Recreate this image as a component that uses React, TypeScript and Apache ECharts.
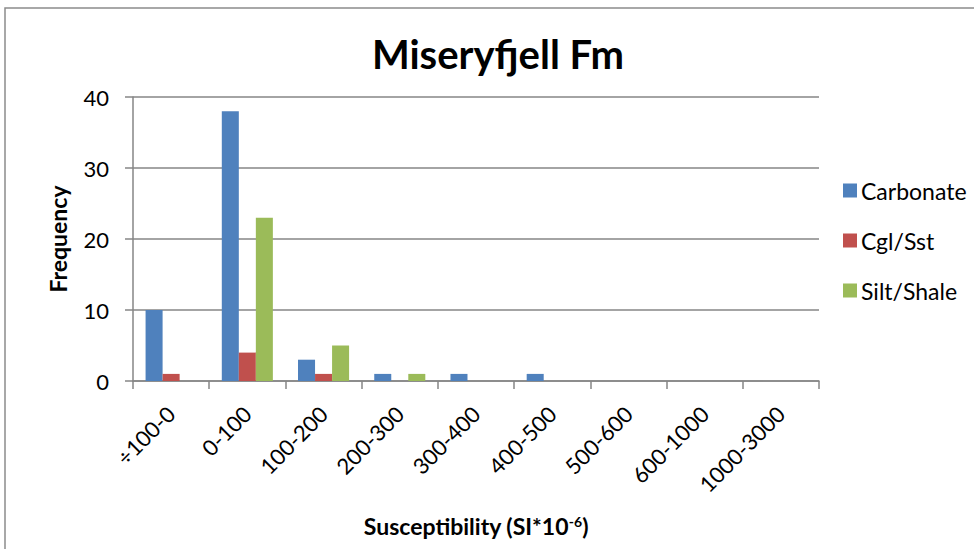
import React, { useEffect, useRef } from "react";
import * as echarts from "echarts";

const categories = ["÷100-0", "0-100", "100-200", "200-300", "300-400", "400-500", "500-600", "600-1000", "1000-3000"];
const carbonate = [10, 38, 3, 1, 1, 1, 0, 0, 0];
const cglSst = [1, 4, 1, 0, 0, 0, 0, 0, 0];
const siltShale = [0, 23, 5, 1, 0, 0, 0, 0, 0];
const seriesNames = ["Carbonate", "Cgl/Sst", "Silt/Shale"];
const colors = ["#4F81BD", "#C0504D", "#9BBB59"];

const FONT = "Lato, 'Open Sans', sans-serif";

export default function App() {
  const ref = useRef<HTMLDivElement>(null);
  useEffect(() => {
    if (!ref.current) return;
    const chart = echarts.init(ref.current, undefined, { renderer: "svg" });
    const toBar = (v: number[]) => v.map((x) => (x === 0 ? null : x));
    chart.setOption({
      animation: false,
      backgroundColor: "#ffffff",
      textStyle: { fontFamily: FONT, color: "#000" },
      title: {
        text: "Miseryfjell Fm",
        left: 493,
        textAlign: "center",
        top: 29,
        textStyle: { fontFamily: FONT, fontWeight: "bold", fontSize: 40, color: "#000" },
      },
      graphic: [
        {
          type: "rect",
          shape: { x: 5, y: 8, width: 1100, height: 700 },
          style: { fill: "none", stroke: "#8c8c8c", lineWidth: 1.5 },
          silent: true,
        },
      ],
      legend: {
        orient: "vertical",
        left: 838,
        top: 174,
        itemWidth: 14,
        itemHeight: 14,
        itemGap: 27,
        icon: "rect",
        data: seriesNames,
        textStyle: { fontFamily: FONT, fontSize: 23, color: "#000", padding: [0, 0, 0, -1] },
      },
      grid: { left: 133, right: 155, top: 97, bottom: 168 },
      xAxis: {
        type: "category",
        data: categories,
        name: "Susceptibility (SI*10{sup|-6})",
        nameLocation: "middle",
        nameGap: 133,
        nameTextStyle: {
          fontFamily: FONT,
          fontWeight: "bold",
          fontSize: 23,
          color: "#000",
          rich: { sup: { fontSize: 14, fontWeight: "bold", verticalAlign: "top", padding: [0, 0, 10, 0], fontFamily: FONT } },
        },
        axisLine: { lineStyle: { color: "#868686", width: 1.5 } },
        axisTick: { show: true, length: 8, alignWithLabel: false, lineStyle: { color: "#868686", width: 1.5 } },
        axisLabel: { rotate: 45, fontSize: 22, color: "#000", fontFamily: FONT, margin: 29, interval: 0 },
        splitLine: { show: false },
      },
      yAxis: {
        type: "value",
        min: 0,
        max: 40,
        interval: 10,
        name: "Frequency",
        nameLocation: "middle",
        nameGap: 64,
        nameRotate: 90,
        nameTextStyle: { fontFamily: FONT, fontWeight: "bold", fontSize: 23, color: "#000" },
        axisLine: { show: true, lineStyle: { color: "#868686", width: 1.5 } },
        axisTick: { show: true, length: 8, inside: false, lineStyle: { color: "#868686", width: 1.5 } },
        axisLabel: { fontSize: 22, color: "#000", fontFamily: FONT, margin: 24 },
        splitLine: { show: true, lineStyle: { color: "#868686", width: 1.5 } },
      },
      series: [
        { name: seriesNames[0], type: "bar", data: toBar(carbonate), itemStyle: { color: colors[0] }, barGap: "0%", barCategoryGap: "33%" },
        { name: seriesNames[1], type: "bar", data: toBar(cglSst), itemStyle: { color: colors[1] }, barGap: "0%", barCategoryGap: "33%" },
        { name: seriesNames[2], type: "bar", data: toBar(siltShale), itemStyle: { color: colors[2] }, barGap: "0%", barCategoryGap: "33%" },
      ],
    });
    return () => chart.dispose();
  }, []);
  return <div ref={ref} style={{ position: "fixed", left: 0, top: 0, width: 974, height: 549 }} />;
}
